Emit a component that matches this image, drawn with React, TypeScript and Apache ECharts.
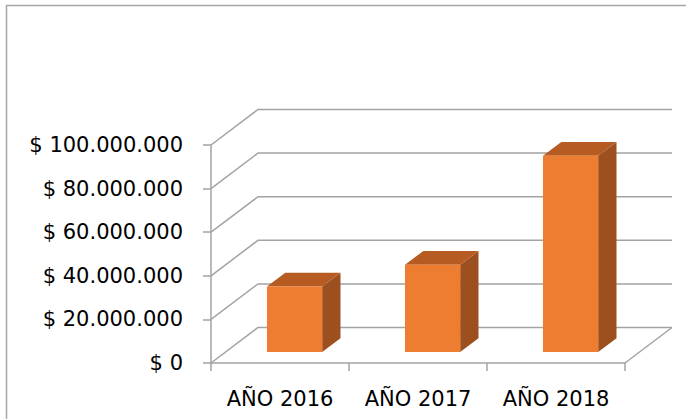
import React, { useEffect, useRef } from "react";
import * as echarts from "echarts";

const categories = ["AÑO 2016", "AÑO 2017", "AÑO 2018"];
const values = [30000000, 40000000, 90000000];
const yTicks = [0, 20000000, 40000000, 60000000, 80000000, 100000000];

const DX = 47;
const DY = -35.5;
const F0 = 0.31;
const F1 = 0.7;
const BAR_RATIO = 0.4;
const GRID_COLOR = "#a3a3a3";
const FONT = "DejaVu Sans";

function fmt(v: number) {
  return "$ " + String(v).replace(/\B(?=(\d{3})+(?!\d))/g, ".");
}

export default function App() {
  const ref = useRef<HTMLDivElement>(null);
  useEffect(() => {
    const chart = echarts.init(ref.current!, null, { renderer: "svg" });
    chart.setOption({
      animation: false,
      backgroundColor: "#ffffff",
      grid: { left: 211, top: 145, right: 61, bottom: 56, outerBoundsMode: "none" },
      xAxis: {
        type: "category",
        data: categories,
        boundaryGap: true,
        axisLine: { show: true, lineStyle: { color: GRID_COLOR, width: 1.5 } },
        axisTick: { show: true, length: 8, lineStyle: { color: GRID_COLOR, width: 1.5 } },
        axisLabel: { color: "#000", fontFamily: FONT, fontSize: 21, margin: 25, interval: 0, hideOverlap: false },
        splitLine: { show: false },
      },
      yAxis: {
        type: "value",
        min: 0,
        max: 100000000,
        interval: 20000000,
        axisLine: { show: true, lineStyle: { color: GRID_COLOR, width: 1.5 } },
        axisTick: { show: true, length: 8, lineStyle: { color: GRID_COLOR, width: 1.5 } },
        axisLabel: { color: "#000", fontFamily: FONT, fontSize: 21, margin: 28, formatter: (v: number) => fmt(v) },
        splitLine: { show: false },
      },
      graphic: [
        {
          type: "rect",
          shape: { x: 6.5, y: 5.5, width: 720, height: 440 },
          style: { fill: null, stroke: "#a6a6a6", lineWidth: 1.5 },
          silent: true,
        },
      ],
      series: [
        {
          type: "custom",
          clip: false,
          z: 1,
          data: yTicks.map((v) => [0, v]),
          renderItem: (params: any, api: any) => {
            const v = api.value(1);
            const cs = params.coordSys;
            const y = api.coord([0, v])[1];
            const x0 = cs.x;
            const x1 = cs.x + cs.width;
            const style = { stroke: GRID_COLOR, lineWidth: 1.5, fill: null };
            const children: any[] = [
              {
                type: "polyline",
                shape: { points: [[x0, y], [x0 + DX, y + DY], [x1 + DX, y + DY]] },
                style,
              },
            ];
            if (v === 0) {
              children.push({
                type: "line",
                shape: { x1: x1, y1: y, x2: x1 + DX, y2: y + DY },
                style,
              });
            }
            return { type: "group", children };
          },
        },
        {
          type: "custom",
          clip: false,
          z: 2,
          data: values.map((v, i) => [i, v]),
          renderItem: (params: any, api: any) => {
            const i = api.value(0);
            const v = api.value(1);
            const p = api.coord([i, v]);
            const y0 = api.coord([i, 0])[1];
            const cw = api.size([1, 0])[0];
            const w = cw * BAR_RATIO;
            const fx = F0 * DX;
            const fy = F0 * DY;
            const ddx = (F1 - F0) * DX;
            const ddy = (F1 - F0) * DY;
            const L = p[0] - w / 2 + fx;
            const R = p[0] + w / 2 + fx;
            const T = p[1] + fy;
            const B = y0 + fy;
            return {
              type: "group",
              children: [
                {
                  type: "polygon",
                  shape: { points: [[R, T], [R + ddx, T + ddy], [R + ddx, B + ddy], [R, B]] },
                  style: { fill: "#9c5020" },
                },
                {
                  type: "polygon",
                  shape: { points: [[L, T], [R, T], [R + ddx, T + ddy], [L + ddx, T + ddy]] },
                  style: { fill: "#b65c23" },
                },
                {
                  type: "rect",
                  shape: { x: L, y: T, width: w, height: B - T },
                  style: { fill: "#ed7d31" },
                },
              ],
            };
          },
        },
      ],
    });
    return () => chart.dispose();
  }, []);
  return (
    <div
      ref={ref}
      style={{ position: "absolute", left: 0, top: 0, width: 686, height: 419 }}
    />
  );
}
